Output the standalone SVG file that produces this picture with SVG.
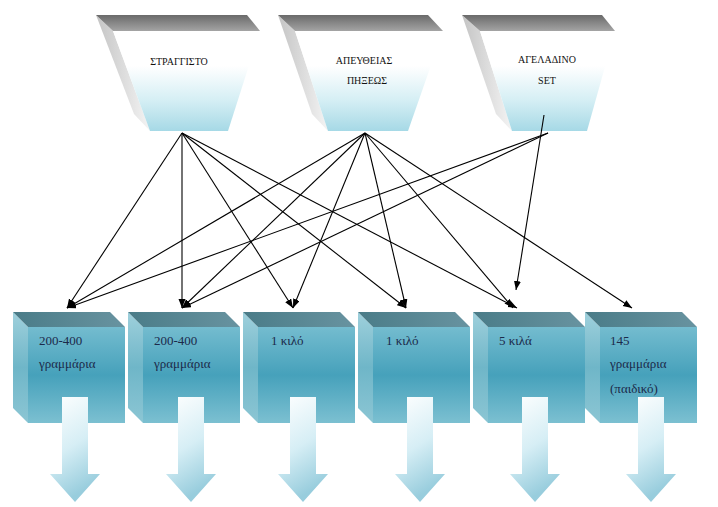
<svg xmlns="http://www.w3.org/2000/svg" width="718" height="507" viewBox="0 0 718 507">
<defs>
<style>
.lbl{font-family:"Liberation Serif","Times New Roman",serif;font-size:10px;fill:#111}
.btxt{font-family:"Liberation Serif","Times New Roman",serif;font-size:13px;fill:#1c2a4a}
.edge{stroke:#000;stroke-width:1.1;fill:none;marker-end:url(#ah)}
.ttop{fill:url(#gTop)}
.tside{fill:url(#gSide)}
.tfront{fill:url(#gFront)}
.ctop{fill:url(#gCTop)}
.cside{fill:url(#gCSide)}
.cfront{fill:url(#gCFront)}
.darr{fill:url(#gArr)}
</style>
<marker id="ah" markerWidth="10" markerHeight="8" refX="9" refY="3.5" orient="auto" markerUnits="userSpaceOnUse">
<path d="M0,0 L9,3.5 L0,7 z" fill="#000"/>
</marker>
<linearGradient id="gTop" x1="0" y1="0" x2="0" y2="1">
<stop offset="0" stop-color="#6a6a6a"/>
<stop offset="1" stop-color="#a4a4a4"/>
</linearGradient>
<linearGradient id="gSide" x1="0" y1="0" x2="1" y2="0">
<stop offset="0" stop-color="#c4c4c4"/>
<stop offset="1" stop-color="#f4f4f4"/>
</linearGradient>
<linearGradient id="gFront" x1="0" y1="0" x2="0" y2="1">
<stop offset="0" stop-color="#ffffff"/>
<stop offset="0.35" stop-color="#ffffff"/>
<stop offset="0.7" stop-color="#d4eef4"/>
<stop offset="1" stop-color="#a6d9e6"/>
</linearGradient>
<linearGradient id="gCTop" x1="0" y1="0" x2="1" y2="0">
<stop offset="0" stop-color="#4a7c88"/>
<stop offset="1" stop-color="#6893a0"/>
</linearGradient>
<linearGradient id="gCSide" x1="0" y1="0" x2="0" y2="1">
<stop offset="0" stop-color="#9fd0dc"/>
<stop offset="0.5" stop-color="#6fb6c8"/>
<stop offset="1" stop-color="#8cc6d4"/>
</linearGradient>
<linearGradient id="gCFront" x1="0" y1="0" x2="0" y2="1">
<stop offset="0" stop-color="#74bccf"/>
<stop offset="0.5" stop-color="#46a1bb"/>
<stop offset="1" stop-color="#7cc0d1"/>
</linearGradient>
<linearGradient id="gArr" x1="0" y1="0" x2="0.3" y2="1">
<stop offset="0" stop-color="#ffffff"/>
<stop offset="0.55" stop-color="#d6eef5"/>
<stop offset="1" stop-color="#98cddd"/>
</linearGradient>
</defs>
<rect width="718" height="507" fill="#fff"/>

<g id="n1">
<polygon class="tside" points="96,15 113,31 150,131 134,114"/>
<polygon class="tfront" points="113,31 260,31 228,131 150,131"/>
<polygon class="ttop" points="96,15 247,15 260,31 113,31"/>
<text class="lbl" x="179" y="65" text-anchor="middle">ΣΤΡΑΓΓΙΣΤΟ</text>
</g>
<g id="n2">
<polygon class="tside" points="278,15 295,31 328,131 312,114"/>
<polygon class="tfront" points="295,31 443,31 408,131 328,131"/>
<polygon class="ttop" points="278,15 428,15 443,31 295,31"/>
<text class="lbl" x="364" y="64" text-anchor="middle">ΑΠΕΥΘΕΙΑΣ</text>
<text class="lbl" x="367" y="84" text-anchor="middle">ΠΗΞΕΩΣ</text>
</g>
<g id="n3">
<polygon class="tside" points="462,15 480,31 512,131 496,114"/>
<polygon class="tfront" points="480,31 615,31 587,131 512,131"/>
<polygon class="ttop" points="462,15 602,15 615,31 480,31"/>
<text class="lbl" x="547" y="63" text-anchor="middle">ΑΓΕΛΑΔΙΝΟ</text>
<text class="lbl" x="547" y="84" text-anchor="middle">SET</text>
</g>

<g id="b1">
<polygon class="cside" points="13,312 28,327 28,423 13,408"/>
<polygon class="ctop" points="13,312 110,312 125,327 28,327"/>
<rect class="cfront" x="28" y="327" width="97" height="96"/>
<polygon class="darr" points="62,397 88,397 88,474 100,474 75,502 50,474 62,474"/>
<text class="btxt" x="39" y="345">200-400</text>
<text class="btxt" x="39" y="368">γραμμάρια</text>
</g>
<g id="b2">
<polygon class="cside" points="128,312 143,327 143,423 128,408"/>
<polygon class="ctop" points="128,312 225,312 240,327 143,327"/>
<rect class="cfront" x="143" y="327" width="97" height="96"/>
<polygon class="darr" points="178,397 204,397 204,474 216,474 191,502 166,474 178,474"/>
<text class="btxt" x="154" y="345">200-400</text>
<text class="btxt" x="154" y="368">γραμμάρια</text>
</g>
<g id="b3">
<polygon class="cside" points="243,312 258,327 258,423 243,408"/>
<polygon class="ctop" points="243,312 340,312 355,327 258,327"/>
<rect class="cfront" x="258" y="327" width="97" height="96"/>
<polygon class="darr" points="290,397 316,397 316,474 328,474 303,502 278,474 290,474"/>
<text class="btxt" x="271" y="345">1 κιλό</text>
</g>
<g id="b4">
<polygon class="cside" points="358,312 373,327 373,423 358,408"/>
<polygon class="ctop" points="358,312 455,312 470,327 373,327"/>
<rect class="cfront" x="373" y="327" width="97" height="96"/>
<polygon class="darr" points="407,397 433,397 433,474 445,474 420,502 395,474 407,474"/>
<text class="btxt" x="386" y="345">1 κιλό</text>
</g>
<g id="b5">
<polygon class="cside" points="473,312 488,327 488,423 473,408"/>
<polygon class="ctop" points="473,312 570,312 585,327 488,327"/>
<rect class="cfront" x="488" y="327" width="97" height="96"/>
<polygon class="darr" points="522,397 548,397 548,474 560,474 535,502 510,474 522,474"/>
<text class="btxt" x="499" y="345">5 κιλά</text>
</g>
<g id="b6">
<polygon class="cside" points="585,312 600,327 600,423 585,408"/>
<polygon class="ctop" points="585,312 682,312 697,327 600,327"/>
<rect class="cfront" x="600" y="327" width="97" height="96"/>
<polygon class="darr" points="638,397 664,397 664,474 676,474 651,502 626,474 638,474"/>
<text class="btxt" x="610" y="345">145</text>
<text class="btxt" x="610" y="368">γραμμάρια</text>
<text class="btxt" x="610" y="393">(παιδικό)</text>
</g>

<g id="connectors">
<line class="edge" x1="182" y1="133" x2="67" y2="308"/>
<line class="edge" x1="182" y1="133" x2="182" y2="308"/>
<line class="edge" x1="182" y1="133" x2="293" y2="308"/>
<line class="edge" x1="182" y1="133" x2="406" y2="308"/>
<line class="edge" x1="182" y1="133" x2="517" y2="308"/>
<line class="edge" x1="365" y1="133" x2="67" y2="308"/>
<line class="edge" x1="365" y1="133" x2="182" y2="308"/>
<line class="edge" x1="365" y1="133" x2="293" y2="308"/>
<line class="edge" x1="365" y1="133" x2="406" y2="308"/>
<line class="edge" x1="365" y1="133" x2="513" y2="308"/>
<line class="edge" x1="365" y1="133" x2="632" y2="308"/>
<line class="edge" x1="548" y1="133" x2="67" y2="308"/>
<line class="edge" x1="548" y1="133" x2="182" y2="308"/>
<line class="edge" x1="544" y1="115" x2="516" y2="290"/>
</g>
</svg>
